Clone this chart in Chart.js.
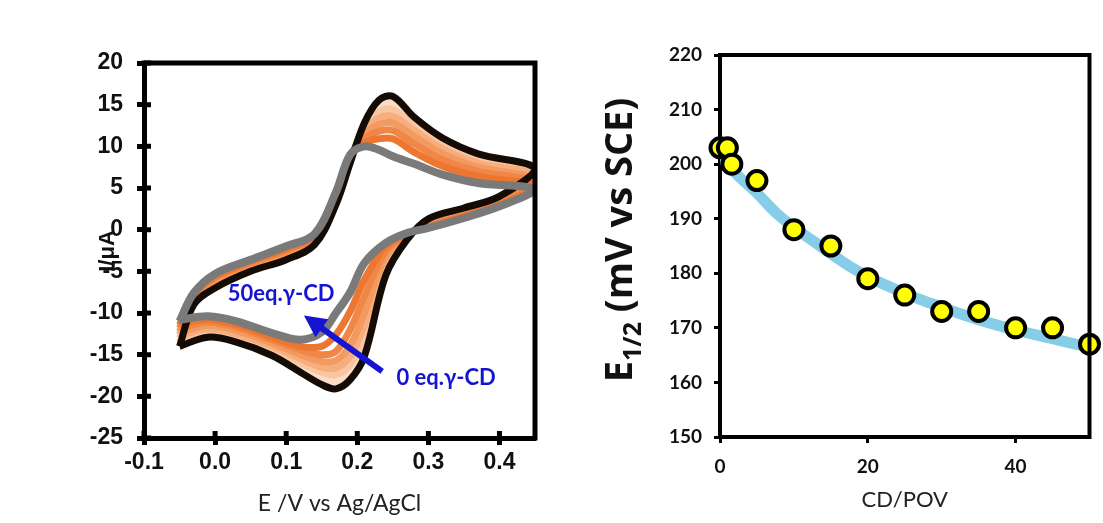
<!DOCTYPE html>
<html>
<head>
<meta charset="utf-8">
<script src="https://cdn.jsdelivr.net/npm/chart.js@4.4.0/dist/chart.umd.min.js"></script>
<style>
  body { margin: 0; background: #fff; }
  #left { position: absolute; left: 0; top: 0; width: 560px; height: 523px; }
  #right { position: absolute; left: 560px; top: 0; width: 543px; height: 523px; }
</style>
</head>
<body>
<div id="left"><canvas id="cv"></canvas></div>
<div id="right"><canvas id="e12"></canvas></div>
<script>
// --- left panel: cyclic voltammograms, forward scan then reverse scan
const potential = [-0.05, -0.03, 0.0, 0.05, 0.10, 0.14, 0.17, 0.19, 0.21, 0.23, 0.25, 0.28, 0.32, 0.37, 0.45,
                   0.40, 0.35, 0.30, 0.27, 0.24, 0.21, 0.19, 0.17, 0.15, 0.12, 0.08, 0.03, -0.01, -0.05];

const i0eq  = [-14, -9.0, -7.0, -5.0, -3.6, -1.8, 3.0, 8.0, 12.8, 15.5, 16.0, 13.5, 11.0, 9.1, 7.3,
               4.0, 2.6, 1.3, -1.2, -5.5, -15.2, -18.0, -19.1, -18.6, -17.1, -15.1, -13.5, -12.9, -14.0];
const stepA = [-13.5, -8.8, -6.8, -4.8, -3.4, -1.6, 3.3, 8.3, 12.5, 14.8, 15.2, 13.0, 10.6, 8.8, 7.0,
               3.8, 2.4, 1.1, -1.1, -5.0, -14.0, -17.2, -18.2, -17.8, -16.5, -14.8, -13.3, -12.6, -13.6];
const stepB = [-13.0, -8.6, -6.6, -4.6, -3.2, -1.4, 3.5, 8.5, 12.2, 14.1, 14.4, 12.5, 10.2, 8.4, 6.7,
               3.7, 2.2, 1.0, -1.0, -4.5, -12.8, -16.2, -17.4, -17.1, -16.0, -14.4, -12.9, -12.3, -13.2];
const stepC = [-12.6, -8.4, -6.3, -4.4, -3.0, -1.2, 3.7, 8.6, 11.8, 13.4, 13.6, 11.9, 9.7, 8.0, 6.4,
               3.5, 2.0, 0.8, -0.9, -3.9, -11.5, -15.2, -16.6, -16.5, -15.5, -14.0, -12.5, -11.9, -12.8];
const stepD = [-12.2, -8.2, -6.1, -4.2, -2.8, -1.0, 3.9, 8.7, 11.4, 12.6, 12.8, 11.2, 9.1, 7.5, 6.0,
               3.4, 1.9, 0.7, -0.8, -3.2, -10.0, -13.9, -15.7, -15.8, -15.0, -13.6, -12.1, -11.5, -12.3];
const stepE = [-11.8, -8.0, -5.8, -4.0, -2.5, -0.8, 4.1, 8.8, 10.9, 11.8, 11.9, 10.3, 8.4, 7.0, 5.6,
               3.2, 1.7, 0.5, -0.6, -2.6, -8.0, -12.0, -14.6, -15.0, -14.4, -13.2, -11.7, -11.1, -11.8];
const stepF = [-11.4, -7.8, -5.6, -3.8, -2.3, -0.6, 4.3, 8.8, 10.4, 10.9, 10.9, 9.3, 7.6, 6.4, 5.2,
               3.0, 1.6, 0.3, -0.5, -2.0, -6.0, -9.8, -12.6, -14.0, -14.0, -12.9, -11.4, -10.8, -11.3];
const i50eq = [-11, -7.6, -5.3, -3.6, -2.0, -0.5, 4.5, 9.0, 10.0, 9.6, 8.8, 7.9, 6.6, 5.6, 4.8,
               2.8, 1.4, 0.2, -0.4, -1.6, -4.0, -7.5, -10.0, -12.3, -13.2, -12.4, -11.0, -10.4, -10.8];

// --- right panel: half-wave potential vs CD/POV ratio
const ratio = [0, 1, 1.6, 5, 10, 15, 20, 25, 30, 35, 40, 45, 50];
const e12   = [203, 203, 200, 197, 188, 185, 179, 176, 173, 173, 170, 170, 167];
const fitRatio = [0, 1, 2.5, 5, 7.5, 10, 12.5, 15, 17.5, 20, 22.5, 25, 27.5, 30, 32.5, 35, 37.5, 40, 42.5, 45, 47.5, 50];
const fitE12   = [201.5, 200, 197.8, 194.7, 191.2, 188.4, 186, 183.6, 181.3, 179.4, 177.8, 176.3, 175, 173.8,
                  172.6, 171.5, 170.5, 169.6, 168.8, 168.0, 167.2, 166.5];

const loop = ys => potential.map((x, k) => ({x: x, y: ys[k]}));
const pairs = (xs, ys) => xs.map((x, k) => ({x: x, y: ys[k]}));

// box around the plot + inner half of the tick marks
const frame = {
  id: 'frame',
  afterDraw(chart, args, opts) {
    const {ctx, chartArea: a} = chart;
    ctx.save();
    ctx.strokeStyle = '#000';
    ctx.lineWidth = opts.width;
    ctx.lineCap = 'square';
    ctx.beginPath();
    ctx.moveTo(a.left, a.top);
    ctx.lineTo(a.right, a.top);
    ctx.lineTo(a.right, a.bottom);
    ctx.stroke();
    if (opts.inner) {
      ctx.lineCap = 'butt';
      ctx.beginPath();
      const xs = chart.scales.x, ys = chart.scales.y;
      xs.ticks.forEach(t => {
        const px = xs.getPixelForValue(t.value);
        ctx.moveTo(px, a.bottom);
        ctx.lineTo(px, a.bottom - opts.inner);
      });
      ys.ticks.forEach(t => {
        const py = ys.getPixelForValue(t.value);
        ctx.moveTo(a.left, py);
        ctx.lineTo(a.left + opts.inner, py);
      });
      ctx.stroke();
    }
    ctx.restore();
  }
};

// arrow + labels on the CV plot
const cvNotes = {
  id: 'cvNotes',
  afterDatasetsDraw(chart) {
    const {ctx} = chart;
    const xs = chart.scales.x, ys = chart.scales.y;
    const blue = '#1414d2';
    const x0 = xs.getPixelForValue(0.235), y0 = ys.getPixelForValue(-17.0);
    const x1 = xs.getPixelForValue(0.125), y1 = ys.getPixelForValue(-10.3);
    const ang = Math.atan2(y1 - y0, x1 - x0);
    const head = 22;
    ctx.save();
    ctx.strokeStyle = blue;
    ctx.fillStyle = blue;
    ctx.lineWidth = 6;
    ctx.beginPath();
    ctx.moveTo(x0, y0);
    ctx.lineTo(x1 - Math.cos(ang) * head * 0.8, y1 - Math.sin(ang) * head * 0.8);
    ctx.stroke();
    ctx.beginPath();
    ctx.moveTo(x1, y1);
    ctx.lineTo(x1 - Math.cos(ang) * head + Math.sin(ang) * 11, y1 - Math.sin(ang) * head - Math.cos(ang) * 11);
    ctx.lineTo(x1 - Math.cos(ang) * head - Math.sin(ang) * 11, y1 - Math.sin(ang) * head + Math.cos(ang) * 11);
    ctx.closePath();
    ctx.fill();

    ctx.font = 'bold 22px Lato';
    ctx.textAlign = 'center';
    ctx.textBaseline = 'middle';
    ctx.fillText('50eq.\u03b3-CD', xs.getPixelForValue(0.093), ys.getPixelForValue(-7.7));
    ctx.fillText('0 eq.\u03b3-CD', xs.getPixelForValue(0.325), ys.getPixelForValue(-17.8));

    // y title, sits over the tick labels as in the original
    ctx.fillStyle = '#111';
    ctx.font = 'bold 22px "Liberation Sans"';
    ctx.translate(108, 251);
    ctx.rotate(-Math.PI / 2);
    ctx.fillText('I/\u03bcA', 0, 0);
    ctx.restore();
  }
};

// rotated E1/2 title with subscript
const e12Title = {
  id: 'e12Title',
  afterDraw(chart) {
    const {ctx} = chart;
    const big = 'bold 38px "Open Sans"', small = 'bold 25px "Open Sans"';
    ctx.save();
    ctx.fillStyle = '#111';
    ctx.textBaseline = 'alphabetic';
    ctx.font = big;
    const wE = ctx.measureText('E').width;
    const wRest = ctx.measureText(' (mV vs SCE)').width;
    ctx.font = small;
    const wSub = ctx.measureText('1/2').width;
    const total = wE + wSub + wRest;
    ctx.translate(72, 240);
    ctx.rotate(-Math.PI / 2);
    let x = -total / 2;
    ctx.font = big;
    ctx.fillText('E', x, 0);
    x += wE;
    ctx.font = small;
    ctx.fillText('1/2', x, 9);
    x += wSub;
    ctx.font = big;
    ctx.fillText(' (mV vs SCE)', x, 0);
    ctx.restore();
  }
};

const cvSeries = [
  {data: loop(i50eq), borderColor: '#7a7a7a', borderWidth: 8},
  {data: loop(i0eq),  borderColor: '#140b04', borderWidth: 7},
  {data: loop(stepF), borderColor: '#ed7631', borderWidth: 7},
  {data: loop(stepE), borderColor: '#f08746', borderWidth: 7},
  {data: loop(stepD), borderColor: '#f39a60', borderWidth: 7},
  {data: loop(stepC), borderColor: '#f6ae7e', borderWidth: 7},
  {data: loop(stepB), borderColor: '#f9c6a2', borderWidth: 7},
  {data: loop(stepA), borderColor: '#fcdcc6', borderWidth: 7}
].map(d => Object.assign(d, {showLine: true, pointRadius: 0, tension: 0.35, fill: false}));

new Chart(document.getElementById('cv'), {
  type: 'scatter',
  data: {datasets: cvSeries},
  options: {
    responsive: true,
    maintainAspectRatio: false,
    animation: false,
    layout: {padding: {left: 0, top: 63, right: 25, bottom: 0}},
    plugins: {legend: {display: false}, tooltip: {enabled: false}, frame: {width: 5, inner: 7}},
    scales: {
      x: {
        type: 'linear', min: -0.1, max: 0.45,
        afterFit: s => { s.height = 85; },
        border: {display: true, width: 5, color: '#000'},
        grid: {display: true, drawOnChartArea: false, tickLength: 7, tickWidth: 5, tickColor: '#000'},
        ticks: {stepSize: 0.1, includeBounds: false, padding: 4, color: '#111',
                font: {family: 'Liberation Sans', size: 23, weight: 'bold'},
                callback: v => Math.abs(v) < 1e-9 ? '0.0' : v.toFixed(1)},
        title: {display: true, text: 'E /V vs Ag/AgCl', color: '#222',
                font: {family: 'Lato', size: 23}, padding: {top: 0, bottom: 6}}
      },
      y: {
        type: 'linear', min: -25, max: 20,
        afterFit: s => { s.width = 144; },
        border: {display: true, width: 5, color: '#000'},
        grid: {display: true, drawOnChartArea: false, tickLength: 7, tickWidth: 5, tickColor: '#000'},
        ticks: {stepSize: 5, padding: 14, color: '#111',
                font: {family: 'Liberation Sans', size: 23, weight: 'bold'}}
      }
    }
  },
  plugins: [frame, cvNotes]
});

new Chart(document.getElementById('e12'), {
  type: 'scatter',
  data: {
    datasets: [
      {data: pairs(ratio, e12), backgroundColor: '#ffff00', borderColor: '#000', borderWidth: 4,
       pointRadius: 9.5, clip: false},
      {data: pairs(fitRatio, fitE12), showLine: true, borderColor: '#86cde8', borderWidth: 11,
       pointRadius: 0, tension: 0.4}
    ]
  },
  options: {
    responsive: true,
    maintainAspectRatio: false,
    animation: false,
    layout: {padding: {left: 0, top: 55, right: 7, bottom: 0}},
    plugins: {legend: {display: false}, tooltip: {enabled: false}, frame: {width: 4, inner: 0}},
    scales: {
      x: {
        type: 'linear', min: 0, max: 50,
        afterFit: s => { s.height = 86; },
        border: {display: true, width: 4, color: '#000'},
        grid: {display: true, drawOnChartArea: false, tickLength: 6, tickWidth: 3, tickColor: '#000'},
        ticks: {stepSize: 20, includeBounds: false, padding: 12, color: '#111',
                font: {family: 'Lato', size: 19, weight: 'bold'}},
        title: {display: true, text: 'CD/POV', color: '#222',
                font: {family: 'Lato', size: 22}, padding: {top: 0, bottom: 10}}
      },
      y: {
        type: 'linear', min: 150, max: 220,
        afterFit: s => { s.width = 160; },
        border: {display: true, width: 4, color: '#000'},
        grid: {display: true, drawOnChartArea: false, tickLength: 6, tickWidth: 3, tickColor: '#000'},
        ticks: {stepSize: 10, padding: 12, color: '#111',
                font: {family: 'Lato', size: 19, weight: 'bold'}}
      }
    }
  },
  plugins: [frame, e12Title]
});
</script>
</body>
</html>
